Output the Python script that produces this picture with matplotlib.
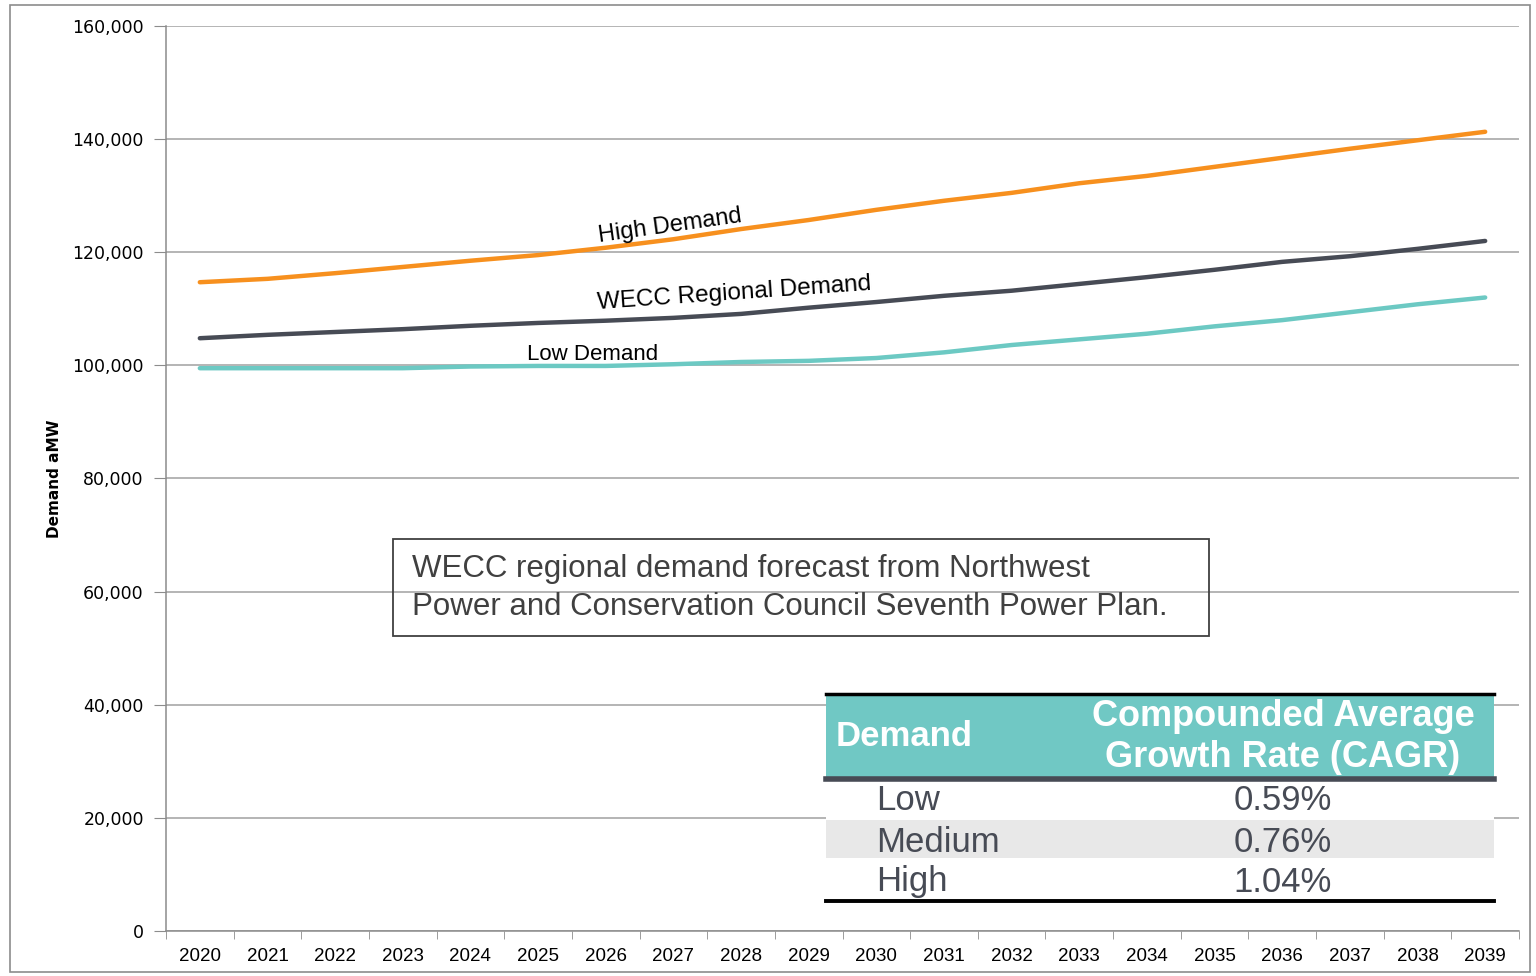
import numpy as np
import matplotlib
matplotlib.use("Agg")
import matplotlib.pyplot as plt
from matplotlib.patches import Rectangle
from matplotlib.lines import Line2D
from matplotlib.ticker import FuncFormatter, FixedLocator

years = list(range(2020, 2040))
high = [114.7, 115.3, 116.3, 117.4, 118.5, 119.5, 120.8, 122.3, 124.1, 125.7,
        127.5, 129.1, 130.5, 132.2, 133.5, 135.1, 136.7, 138.3, 139.8, 141.3]
wecc = [104.8, 105.4, 105.9, 106.4, 107.0, 107.5, 107.9, 108.4, 109.1, 110.2,
        111.2, 112.3, 113.2, 114.4, 115.6, 116.9, 118.3, 119.3, 120.6, 122.0]
low = [99.5, 99.5, 99.5, 99.5, 99.8, 99.9, 99.9, 100.2, 100.6, 100.8,
       101.3, 102.3, 103.6, 104.6, 105.6, 106.9, 108.0, 109.4, 110.8, 112.0]
high = [v * 1000 for v in high]
wecc = [v * 1000 for v in wecc]
low = [v * 1000 for v in low]

table_rows = ["Low", "Medium", "High"]
table_cagr = ["0.59%", "0.76%", "1.04%"]

W, H = 1536, 976
fig = plt.figure(figsize=(W / 100, H / 100), dpi=100)

def fx(px):
    return px / W
def fy(py):
    return 1 - py / H

# outer chart border
fig.patches.append(Rectangle((fx(10), fy(972)), fx(1530) - fx(10), fy(5) - fy(972),
                             transform=fig.transFigure, fill=False, ec="#8c8c8c", lw=1.2))

ax = fig.add_axes([fx(166), fy(931), fx(1519) - fx(166), fy(26) - fy(931)])
x = np.arange(len(years))
ax.plot(x, high, color="#F7901E", lw=3.2, solid_capstyle="round")
ax.plot(x, wecc, color="#474B55", lw=3.2, solid_capstyle="round")
ax.plot(x, low, color="#6CC9C3", lw=3.2, solid_capstyle="round")

ax.set_xlim(-0.5, len(years) - 0.5)
ax.set_ylim(0, 160000)
ax.set_yticks(np.arange(0, 160001, 20000))
ax.yaxis.set_major_formatter(FuncFormatter(lambda v, p: f"{int(v):,}"))
ax.grid(axis="y", color="#a0a0a0", lw=1.1)
ax.set_axisbelow(True)
ax.set_xticks(x)
ax.set_xticklabels([str(y) for y in years], fontsize=13.5, family="Liberation Sans")
ax.xaxis.set_minor_locator(FixedLocator(np.arange(-0.5, len(years), 1)))
ax.tick_params(axis="x", which="major", length=0, pad=12)
ax.tick_params(axis="x", which="minor", length=6, color="#8c8c8c")
ax.tick_params(axis="y", length=9, color="#8c8c8c", labelsize=12.5, pad=7)
for s in ["top", "right"]:
    ax.spines[s].set_visible(False)
for s in ["left", "bottom"]:
    ax.spines[s].set_color("#8c8c8c")
    ax.spines[s].set_linewidth(1.1)
ax.set_ylabel("Demand aMW", fontsize=11, fontweight="bold", labelpad=7)

# series labels
ax.text(6.95, 124700, "High Demand", fontsize=17, rotation=8, ha="center", va="center",
        family="Liberation Sans")
ax.text(7.9, 112800, "WECC Regional Demand", fontsize=17.5, rotation=4, ha="center", va="center",
        family="Liberation Sans")
ax.text(5.8, 102000, "Low Demand", fontsize=16, ha="center", va="center",
        family="Liberation Sans")

# note box
fig.text(fx(412), fy(588), "WECC regional demand forecast from Northwest\nPower and Conservation Council Seventh Power Plan.",
         fontsize=22.5, color="#404040", ha="left", va="center", linespacing=1.38,
         family="Liberation Sans")
fig.patches.append(Rectangle((fx(393), fy(636)), fx(1209) - fx(393), fy(539) - fy(636),
                             transform=fig.transFigure, fill=True, fc="none", ec="#404040", lw=1.3,
                             zorder=5))

# CAGR table
tl, tr = 826, 1494
fig.patches.append(Rectangle((fx(tl), fy(778)), fx(tr) - fx(tl), fy(694) - fy(778),
                             transform=fig.transFigure, fc="#70C8C4", ec="none", zorder=5))
fig.patches.append(Rectangle((fx(tl), fy(900)), fx(tr) - fx(tl), fy(780) - fy(900),
                             transform=fig.transFigure, fc="white", ec="none", zorder=5))
fig.patches.append(Rectangle((fx(tl), fy(858)), fx(tr) - fx(tl), fy(820) - fy(858),
                             transform=fig.transFigure, fc="#E8E8E8", ec="none", zorder=6))
fig.lines.append(Line2D([fx(tl), fx(tr)], [fy(694), fy(694)], transform=fig.transFigure,
                        color="black", lw=2.5, zorder=7))
fig.lines.append(Line2D([fx(tl), fx(tr)], [fy(779), fy(779)], transform=fig.transFigure,
                        color="#474B55", lw=4, zorder=7))
fig.lines.append(Line2D([fx(tl), fx(tr)], [fy(901), fy(901)], transform=fig.transFigure,
                        color="black", lw=2.8, zorder=7))
fig.text(fx(836), fy(737), "Demand", fontsize=25, fontweight="bold", color="white",
         ha="left", va="center", family="Liberation Sans", zorder=8)
fig.text(fx(1283), fy(737), "Compounded Average\nGrowth Rate (CAGR)", fontsize=26,
         fontweight="bold", color="white", ha="center", va="center", linespacing=1.2,
         family="Liberation Sans", zorder=8)
row_y = [801, 843, 882]
for name, val, ry in zip(table_rows, table_cagr, row_y):
    fig.text(fx(876), fy(ry), name, fontsize=25, color="#474B55", ha="left", va="center",
             family="Liberation Sans", zorder=8)
    fig.text(fx(1283), fy(ry), val, fontsize=25, color="#474B55", ha="center", va="center",
             family="Liberation Sans", zorder=8)

fig.savefig("out.png", dpi=100)
